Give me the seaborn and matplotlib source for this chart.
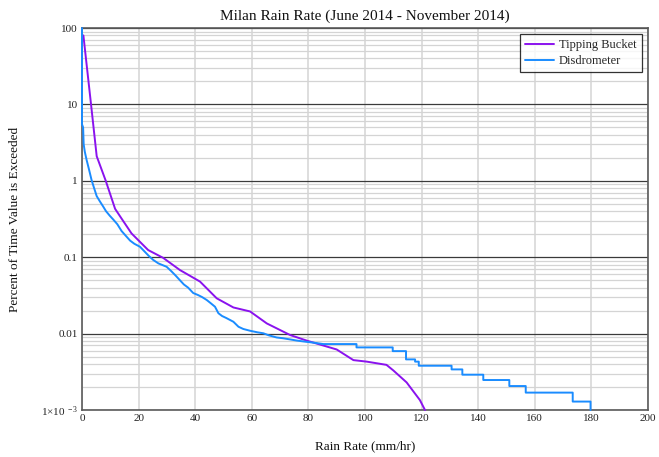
import matplotlib
matplotlib.use("Agg")
import matplotlib.pyplot as plt
import matplotlib.ticker as mticker
import numpy as np
import pandas as pd
import seaborn as sns

# Tipping bucket exceedance curve (rain rate mm/hr, percent of time exceeded)
tb_rate = [0.5, 3.2, 5.2, 8.4, 11.7, 14.0, 17.5, 23.4, 28.7, 34.6, 41.7, 47.6,
           53.5, 59.4, 65.3, 73.5, 79.4, 90.0, 95.9, 100.6, 107.6, 110.0,
           114.7, 119.4, 121.2]
tb_pct = [80, 10, 2.1, 1.0, 0.43, 0.32, 0.205, 0.124, 0.098, 0.068, 0.048,
          0.029, 0.022, 0.0195, 0.0136, 0.0096, 0.0081, 0.0062, 0.0045,
          0.0043, 0.0039, 0.0033, 0.0023, 0.00135, 0.001]

# Disdrometer exceedance curve; the tail is listed corner by corner (steps)
dis_rate = [0, 0, 0.4, 0.6, 1.0, 1.6, 2.5, 3.4, 4.3, 5.2, 6.3, 7.5, 8.5, 9.8,
            11.1, 12.5, 14.0, 15.8, 17.0, 18.5, 20.5, 22.0, 23.5, 25.2, 27.0,
            29.9, 31.5, 33.0, 34.6, 36.0, 37.5, 39.3, 41.0, 42.5, 44.1, 45.5,
            47.0, 48.2, 49.5, 51.0, 53.5, 55.3, 57.0, 59.4, 62.0, 64.1, 66.0,
            68.8, 71.0, 73.5, 76.0, 79.4, 82.0, 85.3,
            97.0, 97.0, 109.8, 109.8, 114.5, 114.5, 117.7, 117.7, 119.0,
            119.0, 130.6, 130.6, 134.4, 134.4, 141.8, 141.8, 151.0, 151.0,
            156.8, 156.8, 173.4, 173.4, 179.7, 179.7]
dis_pct = [100, 5.5, 5.0, 3.0, 2.4, 1.9, 1.4, 1.02, 0.8, 0.63, 0.54, 0.46,
           0.40, 0.35, 0.31, 0.27, 0.22, 0.185, 0.165, 0.15, 0.137, 0.12,
           0.105, 0.092, 0.083, 0.075, 0.066, 0.058, 0.050, 0.044, 0.040,
           0.034, 0.032, 0.030, 0.0275, 0.025, 0.0225, 0.0185, 0.0170,
           0.0160, 0.0143, 0.0123, 0.0115, 0.0109, 0.0104, 0.0101, 0.0095,
           0.0089, 0.0087, 0.0084, 0.0081, 0.0078, 0.0076, 0.0073,
           0.0073, 0.0066, 0.0066, 0.0059, 0.0059, 0.0046, 0.0046, 0.0043,
           0.0043, 0.0038, 0.0038, 0.0034, 0.0034, 0.0029, 0.0029, 0.00247,
           0.00247, 0.00206, 0.00206, 0.00169, 0.00169, 0.00129, 0.00129,
           0.001]

x_ticks = [0, 20, 40, 60, 80, 100, 120, 140, 160, 180, 200]
y_ticks = [1e-3, 1e-2, 1e-1, 1, 10, 100]
y_tick_labels = [r"$\mathregular{1{\times}10^{\ -3}}$", "0.01", "0.1", "1", "10", "100"]

sns.set_theme(style="white")
plt.rcParams["font.family"] = ["Liberation Serif", "DejaVu Serif"]
plt.rcParams["mathtext.fontset"] = "custom"
plt.rcParams["mathtext.rm"] = "Liberation Serif"
plt.rcParams["mathtext.it"] = "Liberation Serif:italic"

tb = pd.DataFrame({"rate": tb_rate, "pct": tb_pct})
dis = pd.DataFrame({"rate": dis_rate, "pct": dis_pct})

fig = plt.figure(figsize=(6.59, 4.57), dpi=100)
ax = fig.add_axes([0.1244, 0.1028, 0.8589, 0.8359])

ax.set_yscale("log")
ax.set_xlim(0, 200)
ax.set_ylim(1e-3, 100)

# grid: light minor decades, dark major decades, light vertical lines
ax.yaxis.set_minor_locator(mticker.LogLocator(base=10, subs=np.arange(2, 10)))
ax.grid(True, which="minor", axis="y", color="#d4d4d4", lw=0.9)
ax.grid(True, which="major", axis="y", color="#3a3a3a", lw=0.9)
ax.xaxis.set_major_locator(mticker.FixedLocator(x_ticks))
ax.grid(True, which="major", axis="x", color="#d4d4d4", lw=1.1)
ax.set_axisbelow(True)

sns.lineplot(data=tb, x="rate", y="pct", ax=ax, color="#8a12ee", lw=1.4,
             sort=False, estimator=None, label="Tipping Bucket",
             zorder=3, clip_on=False)
sns.lineplot(data=dis, x="rate", y="pct", ax=ax, color="#1a8cff", lw=1.4,
             sort=False, estimator=None, label="Disdrometer",
             zorder=3, clip_on=False)

ax.set_yticks(y_ticks)
ax.set_yticklabels(y_tick_labels)
ax.yaxis.set_minor_formatter(mticker.NullFormatter())
ax.set_xticks(x_ticks)
ax.set_xticklabels([str(v) for v in x_ticks])
ax.tick_params(axis="both", which="both", length=0, labelsize=8,
               colors="#222222", pad=3)

for s in ax.spines.values():
    s.set_color("#5a5a5a")
    s.set_linewidth(1.2)

ax.set_title("Milan Rain Rate (June 2014 - November 2014)", fontsize=11,
             color="#111111", pad=6)
ax.set_xlabel("Rain Rate (mm/hr)", fontsize=9.5, color="#111111", labelpad=12)
ax.set_ylabel("Percent of Time Value is Exceeded", fontsize=9.5,
              color="#111111", labelpad=14)

leg = ax.legend(loc="upper right", fontsize=9, frameon=True, fancybox=False,
                handlelength=2.3, borderaxespad=0.5, borderpad=0.4,
                labelspacing=0.3, handletextpad=0.4)
leg.get_frame().set_edgecolor("black")
leg.get_frame().set_linewidth(0.9)
leg.set_zorder(5)

fig.savefig("out.png", dpi=100)
